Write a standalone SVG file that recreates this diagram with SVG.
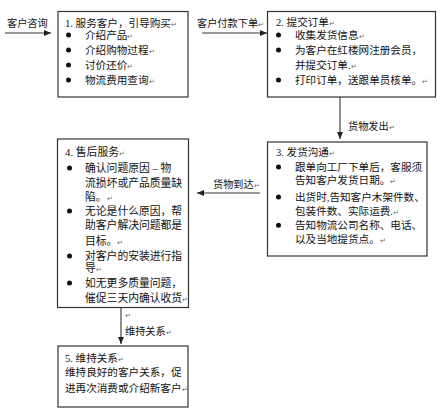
<svg xmlns="http://www.w3.org/2000/svg" width="440" height="420" viewBox="0 0 440 420">
<style>
text{font-family:"Liberation Serif","Noto Sans CJK SC",serif;fill:#111}
.t{font-size:10.6px}
.t4{font-size:10.8px}
.lb{font-size:10.2px}
.pm{font-size:7px;fill:#666}
.box{fill:#fff;stroke:#333;stroke-width:1.2}
.con{stroke:#333;stroke-width:1.1;fill:none;marker-end:url(#ah)}
.b{fill:#111}
</style>
<defs>
<marker id="ah" markerUnits="userSpaceOnUse" markerWidth="7" markerHeight="6" refX="7" refY="3" orient="auto">
<path d="M0,0 L7,3 L0,6 z" fill="#222"/>
</marker>
</defs>
<rect width="440" height="420" fill="#fff"/>

<g id="connectors">
<line class="con" x1="5" y1="33" x2="51" y2="33"/>
<line class="con" x1="202" y1="33" x2="267" y2="33"/>
<line class="con" x1="340" y1="97" x2="340" y2="139"/>
<line class="con" x1="260" y1="193" x2="197" y2="193"/>
<line class="con" x1="121" y1="308" x2="121" y2="344"/>
<text class="lb" x="7" y="27">客户咨询</text>
<text class="lb" x="197" y="27">客户付款下单<tspan class="pm">↵</tspan></text>
<text class="lb" x="348" y="130">货物发出<tspan class="pm">↵</tspan></text>
<text class="lb" x="213" y="188">货物到达<tspan class="pm">↵</tspan></text>
<text class="pm" x="125" y="318">↵</text>
<text class="lb" x="125" y="335">维持关系<tspan class="pm">↵</tspan></text>
</g>

<g id="node1">
<rect class="box" x="58" y="11.5" width="130" height="85.5"/>
<text class="t" x="65" y="26.5">1. 服务客户，引导购买<tspan class="pm">↵</tspan></text>
<circle class="b" cx="68.5" cy="35" r="2.5"/>
<circle class="b" cx="68.5" cy="50" r="2.5"/>
<circle class="b" cx="68.5" cy="65" r="2.5"/>
<circle class="b" cx="68.5" cy="80" r="2.5"/>
<text class="t" x="85" y="39">介绍产品<tspan class="pm">↵</tspan></text>
<text class="t" x="85" y="54">介绍购物过程<tspan class="pm">↵</tspan></text>
<text class="t" x="85" y="69">讨价还价<tspan class="pm">↵</tspan></text>
<text class="t" x="85" y="84">物流费用查询<tspan class="pm">↵</tspan></text>
</g>

<g id="node2">
<rect class="box" x="267.5" y="11.5" width="168" height="85.5"/>
<text class="t" x="276" y="25.5">2. 提交订单<tspan class="pm">↵</tspan></text>
<circle class="b" cx="278.5" cy="35" r="2.5"/>
<circle class="b" cx="278.5" cy="50" r="2.5"/>
<circle class="b" cx="278.5" cy="80" r="2.5"/>
<text class="t" x="295" y="38.5">收集发货信息<tspan class="pm">↵</tspan></text>
<text class="t" x="295" y="54">为客户在红楼网注册会员，</text>
<text class="t" x="295" y="69">并提交订单.<tspan class="pm">↵</tspan></text>
<text class="t" x="295" y="84">打印订单，送跟单员核单。<tspan class="pm">↵</tspan></text>
</g>

<g id="node3">
<rect class="box" x="267.5" y="142" width="159.5" height="114"/>
<text class="t" x="276" y="156.3">3. 发货沟通<tspan class="pm">↵</tspan></text>
<circle class="b" cx="278.5" cy="167" r="2.5"/>
<circle class="b" cx="278.5" cy="197" r="2.5"/>
<circle class="b" cx="278.5" cy="225.3" r="2.5"/>
<text class="t" x="295" y="170.7">跟单向工厂下单后，客服须</text>
<text class="t" x="295" y="184">告知客户发货日期。<tspan class="pm">↵</tspan></text>
<text class="t" x="295" y="200.7">出货时,告知客户木架件数、</text>
<text class="t" x="295" y="214.7">包装件数、实际运费.<tspan class="pm">↵</tspan></text>
<text class="t" x="295" y="229">告知物流公司名称、电话、</text>
<text class="t" x="295" y="243.3">以及当地提货点。<tspan class="pm">↵</tspan></text>
</g>

<g id="node4">
<rect class="box" x="57.5" y="139" width="131" height="168.5"/>
<text class="t4" x="65" y="155.7">4. 售后服务<tspan class="pm">↵</tspan></text>
<circle class="b" cx="69.5" cy="168" r="2.5"/>
<circle class="b" cx="69.5" cy="211" r="2.5"/>
<circle class="b" cx="69.5" cy="256" r="2.5"/>
<circle class="b" cx="69.5" cy="283" r="2.5"/>
<text class="t4" x="85" y="172">确认问题原因 – 物</text>
<text class="t4" x="85" y="187">流损坏或产品质量缺</text>
<text class="t4" x="85" y="201">陷。<tspan class="pm">↵</tspan></text>
<text class="t4" x="85" y="215">无论是什么原因，帮</text>
<text class="t4" x="85" y="229">助客户解决问题都是</text>
<text class="t4" x="85" y="245">目标。<tspan class="pm">↵</tspan></text>
<text class="t4" x="85" y="260">对客户的安装进行指</text>
<text class="t4" x="85" y="272">导<tspan class="pm">↵</tspan></text>
<text class="t4" x="85" y="287">如无更多质量问题，</text>
<text class="t4" x="85" y="302">催促三天内确认收货<tspan class="pm">↵</tspan></text>
</g>

<g id="node5">
<rect class="box" x="58" y="346" width="130" height="61"/>
<text class="t" x="65" y="362.3">5. 维持关系<tspan class="pm">↵</tspan></text>
<text class="t" x="65" y="375.7">维持良好的客户关系，促</text>
<text class="t" x="65" y="391.7">进再次消费或介绍新客户<tspan class="pm">↵</tspan></text>
</g>
</svg>
